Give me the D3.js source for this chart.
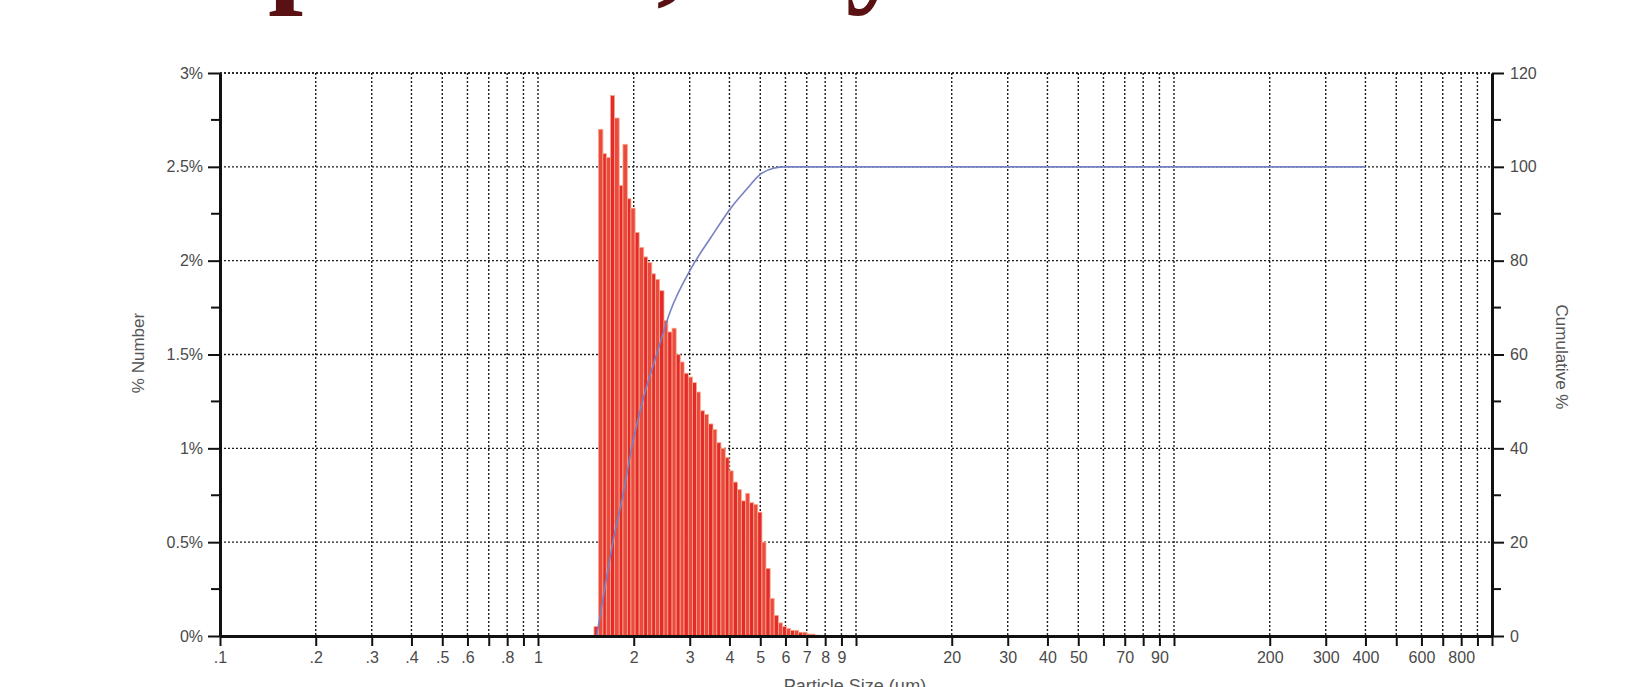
<!DOCTYPE html>
<html>
<head>
<meta charset="utf-8">
<script src="https://cdn.jsdelivr.net/npm/d3@7"></script>
<style>
  body { margin: 0; background: #fff; overflow: hidden; }
  svg { display: block; }
  .tick text { font-family: "Liberation Sans", Arial, sans-serif; fill: #4a4a4a; }
</style>
</head>
<body>
<svg id="chart" width="1632" height="687"></svg>
<script>
// histogram bins (µm edges) and % number per bin
const binEdges = [1.50, 1.55, 1.60, 1.64, 1.69, 1.74, 1.80, 1.85, 1.91, 1.96, 2.02, 2.08, 2.15, 2.21,
  2.28, 2.34, 2.41, 2.49, 2.56, 2.64, 2.72, 2.80, 2.88, 2.97, 3.06, 3.15, 3.24, 3.34, 3.44, 3.55,
  3.65, 3.76, 3.88, 3.99, 4.11, 4.24, 4.36, 4.50, 4.63, 4.77, 4.91, 5.06, 5.21, 5.37, 5.53, 5.70,
  5.87, 6.04, 6.22, 6.41, 6.60, 6.80, 7.01, 7.22, 7.43, 7.66];
const pctNumber = [0.05, 2.70, 2.57, 2.55, 2.88, 2.76, 2.40, 2.62, 2.33, 2.28, 2.15, 2.07, 2.02, 1.99,
  1.93, 1.90, 1.84, 1.68, 1.62, 1.64, 1.50, 1.46, 1.40, 1.38, 1.35, 1.30, 1.20, 1.18, 1.13, 1.10,
  1.03, 1.00, 0.95, 0.88, 0.82, 0.78, 0.72, 0.76, 0.71, 0.70, 0.66, 0.50, 0.36, 0.20, 0.11, 0.07,
  0.05, 0.04, 0.03, 0.03, 0.02, 0.02, 0.01, 0.01, 0.005];

// cumulative curve
const cumSize = [1.53, 1.62, 1.72, 1.85, 1.97, 2.15, 2.36, 2.6, 3.04, 3.5, 4.07, 4.5, 5.0, 5.5, 6.0, 10, 100, 400];
const cumPct = [0, 10, 20, 30, 40, 51, 60, 69, 78.5, 85, 91.5, 95, 98.4, 99.7, 100, 100, 100, 100];

// axes ticks
const xTicks = [0.1, 0.2, 0.3, 0.4, 0.5, 0.6, 0.7, 0.8, 0.9, 1, 2, 3, 4, 5, 6, 7, 8, 9,
  10, 20, 30, 40, 50, 60, 70, 80, 90, 100, 200, 300, 400, 500, 600, 700, 800, 900, 1000];
const xTickLabels = [".1", ".2", ".3", ".4", ".5", ".6", "", ".8", "", "1", "2", "3", "4", "5", "6", "7", "8", "9",
  "", "20", "30", "40", "50", "", "70", "", "90", "", "200", "300", "400", "", "600", "", "800", "", ""];
const leftTicks = [0, 0.5, 1, 1.5, 2, 2.5, 3];
const leftTickLabels = ["0%", "0.5%", "1%", "1.5%", "2%", "2.5%", "3%"];
const leftMinor = [0.25, 0.75, 1.25, 1.75, 2.25, 2.75];
const rightTicks = [0, 20, 40, 60, 80, 100, 120];
const rightMinor = [10, 30, 50, 70, 90, 110];

const titleText = "Sample size, dry";

const svg = d3.select("#chart");
const plotL = 220, plotR = 1492, plotT = 73, plotB = 636;

const x = d3.scaleLog().domain([0.1, 1000]).range([plotL, plotR]);
const yL = d3.scaleLinear().domain([0, 3]).range([plotB, plotT]);
const yR = d3.scaleLinear().domain([0, 120]).range([plotB, plotT]);

// cut-off slide title
svg.append("text")
  .attr("x", 30).attr("y", -11)
  .attr("font-family", "'Liberation Serif', 'Times New Roman', serif")
  .attr("font-weight", "bold")
  .attr("font-size", 126)
  .attr("fill", "#5a1114")
  .text(titleText);

// dotted grid
const grid = svg.append("g").attr("stroke", "#1e1e1e").attr("stroke-width", 1.4).attr("stroke-dasharray", "2 2");
grid.selectAll("line.v")
  .data(xTicks.filter(d => d > 0.1 && d < 1000))
  .enter().append("line")
  .attr("x1", d => x(d)).attr("x2", d => x(d))
  .attr("y1", plotT).attr("y2", plotB);
grid.selectAll("line.h")
  .data(leftTicks.filter(d => d > 0))
  .enter().append("line")
  .attr("x1", plotL).attr("x2", plotR)
  .attr("y1", d => yL(d)).attr("y2", d => yL(d));

// histogram bars
svg.append("g")
  .selectAll("rect")
  .data(pctNumber)
  .enter().append("rect")
  .attr("x", (d, i) => x(binEdges[i]))
  .attr("width", (d, i) => x(binEdges[i + 1]) - x(binEdges[i]))
  .attr("y", d => yL(d))
  .attr("height", d => yL(0) - yL(d))
  .attr("fill", (d, i) => i % 2 ? "#ec4a3e" : "#e42a2a")
  .attr("stroke", "#f6a98a")
  .attr("stroke-width", 0.8);

// cumulative line
const cumLine = d3.line()
  .x((d, i) => x(cumSize[i]))
  .y(d => yR(d))
  .curve(d3.curveMonotoneX);
svg.append("path")
  .datum(cumPct)
  .attr("d", cumLine)
  .attr("fill", "none")
  .attr("stroke", "#7482c4")
  .attr("stroke-width", 1.6);

// axes
function styleAxis(g) {
  g.select(".domain").attr("stroke", "#111").attr("stroke-width", 3);
  g.selectAll(".tick line").attr("stroke", "#111").attr("stroke-width", 2);
  g.selectAll(".tick text").attr("font-size", 16);
}

svg.append("g")
  .attr("transform", `translate(0,${plotB})`)
  .call(d3.axisBottom(x).tickValues(xTicks).tickFormat((d, i) => xTickLabels[i]).tickSize(10).tickSizeOuter(0).tickPadding(6))
  .call(styleAxis);

const yAxisL = svg.append("g")
  .attr("transform", `translate(${plotL},0)`)
  .call(d3.axisLeft(yL).tickValues(leftTicks).tickFormat((d, i) => leftTickLabels[i]).tickSize(12).tickSizeOuter(0).tickPadding(5))
  .call(styleAxis);
yAxisL.selectAll(".minor").data(leftMinor).enter().append("line")
  .attr("x1", -9).attr("x2", 0)
  .attr("y1", d => yL(d)).attr("y2", d => yL(d))
  .attr("stroke", "#111").attr("stroke-width", 2);

const yAxisR = svg.append("g")
  .attr("transform", `translate(${plotR},0)`)
  .call(d3.axisRight(yR).tickValues(rightTicks).tickSize(12).tickSizeOuter(0).tickPadding(6))
  .call(styleAxis);
yAxisR.selectAll(".minor").data(rightMinor).enter().append("line")
  .attr("x1", 0).attr("x2", 9)
  .attr("y1", d => yR(d)).attr("y2", d => yR(d))
  .attr("stroke", "#111").attr("stroke-width", 2);

// top dotted border
svg.append("line")
  .attr("x1", plotL).attr("x2", plotR).attr("y1", plotT).attr("y2", plotT)
  .attr("stroke", "#1e1e1e").attr("stroke-width", 1.6).attr("stroke-dasharray", "2 2");

// axis titles
svg.append("text")
  .attr("transform", `translate(144,353) rotate(-90)`)
  .attr("text-anchor", "middle")
  .attr("font-family", "'Liberation Sans', Arial, sans-serif")
  .attr("font-size", 17).attr("fill", "#555")
  .text("% Number");

svg.append("text")
  .attr("transform", `translate(1556,357) rotate(90)`)
  .attr("text-anchor", "middle")
  .attr("font-family", "'Liberation Sans', Arial, sans-serif")
  .attr("font-size", 17).attr("fill", "#555")
  .text("Cumulative %");

svg.append("text")
  .attr("x", 855).attr("y", 692)
  .attr("text-anchor", "middle")
  .attr("font-family", "'Liberation Sans', Arial, sans-serif")
  .attr("font-size", 18).attr("fill", "#555")
  .text("Particle Size (µm)");
</script>
</body>
</html>
